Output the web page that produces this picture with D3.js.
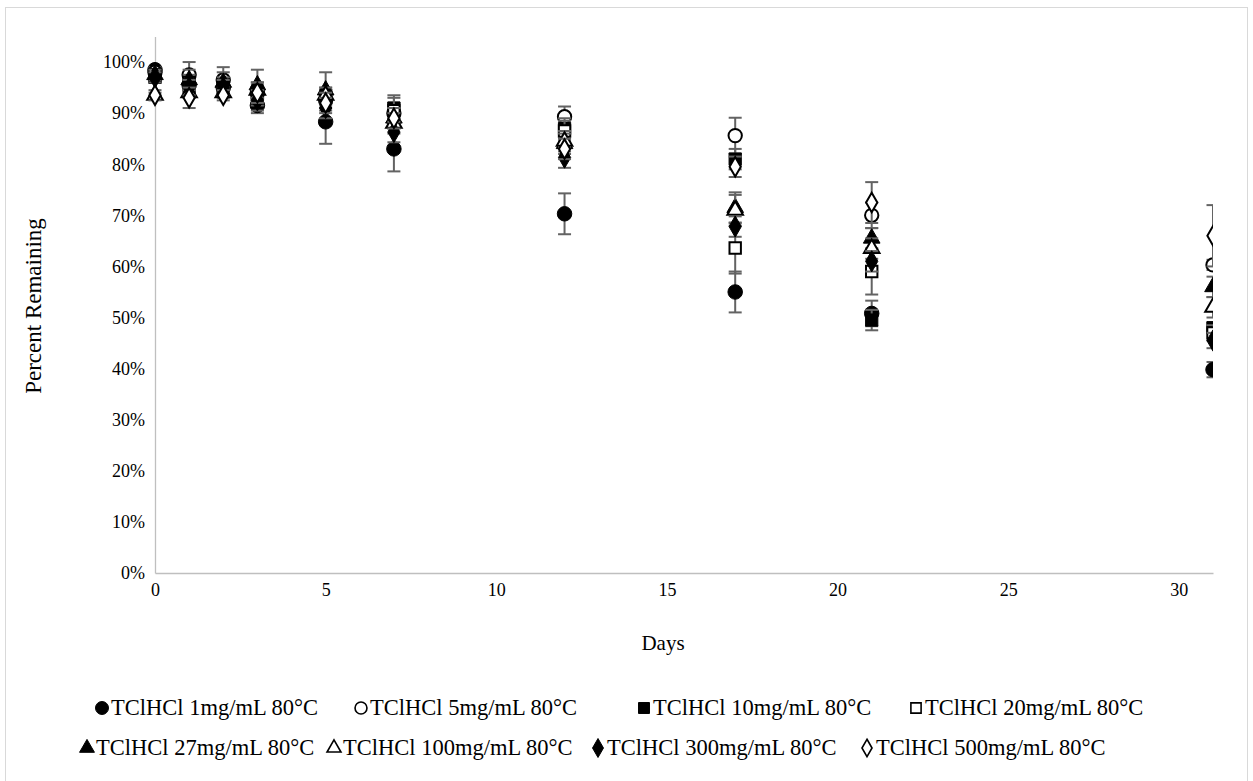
<!DOCTYPE html>
<html><head><meta charset="utf-8">
<script src="https://cdn.jsdelivr.net/npm/d3@7/dist/d3.min.js"></script>
<style>body{margin:0;background:#fff;} svg{display:block;}</style>
</head><body>
<svg id="chart" width="1253" height="781"></svg>
<script>
const days = [0, 1, 2, 3, 5, 7, 12, 17, 21, 31];
const xTicks = [0, 5, 10, 15, 20, 25, 30];
const yTicks = [0, 10, 20, 30, 40, 50, 60, 70, 80, 90, 100];
const seriesNames = ["TClHCl 1mg/mL 80°C", "TClHCl 5mg/mL 80°C", "TClHCl 10mg/mL 80°C", "TClHCl 20mg/mL 80°C",
  "TClHCl 27mg/mL 80°C", "TClHCl 100mg/mL 80°C", "TClHCl 300mg/mL 80°C", "TClHCl 500mg/mL 80°C"];
const s1mg   = [98.5, 95.5, 95.0, 91.5, 88.3, 83.0, 70.3, 55.0, 50.8, 39.8];
const s5mg   = [98.0, 97.5, 96.5, 94.0, 92.5, 90.0, 89.3, 85.6, 70.0, 60.3];
const s10mg  = [97.0, 95.0, 95.0, 93.0, 93.5, 91.0, 87.0, 81.0, 49.5, 48.0];
const s20mg  = [97.5, 96.0, 95.5, 94.0, 93.0, 90.5, 86.5, 63.6, 59.0, 47.0];
const s27mg  = [97.5, 96.5, 96.0, 95.5, 94.5, 89.0, 84.0, 71.5, 65.5, 56.0];
const s100mg = [93.5, 94.0, 94.0, 94.5, 93.5, 88.0, 84.5, 71.0, 63.5, 52.0];
const s300mg = [97.0, 95.0, 95.0, 92.5, 91.0, 86.3, 81.3, 67.8, 61.0, 45.5];
const s500mg = [93.5, 93.0, 93.5, 94.0, 92.0, 89.0, 83.0, 79.5, 72.5, 66.0];
const e1mg   = [0.5, 1.0, 1.0, 1.5, 4.3, 4.4, 4.0, 4.0, 2.5, 1.5];
const e5mg   = [1.0, 2.5, 2.5, 2.0, 2.0, 2.0, 2.0, 3.5, 2.5, 1.0];
const e10mg  = [1.0, 1.5, 1.5, 1.5, 1.5, 2.5, 2.0, 2.0, 2.0, 1.0];
const e20mg  = [1.0, 1.5, 1.5, 1.5, 1.5, 2.5, 2.0, 5.0, 4.5, 1.5];
const e27mg  = [1.0, 2.0, 2.0, 3.0, 3.5, 2.0, 2.0, 3.0, 2.0, 2.0];
const e100mg = [0.5, 1.0, 1.0, 1.5, 1.5, 2.0, 2.0, 3.0, 2.0, 2.0];
const e300mg = [1.0, 1.5, 1.5, 2.0, 2.0, 2.0, 2.0, 2.0, 2.0, 1.5];
const e500mg = [1.0, 2.0, 1.0, 2.0, 2.0, 2.0, 2.0, 2.0, 4.0, 6.0];

const values = [s1mg, s5mg, s10mg, s20mg, s27mg, s100mg, s300mg, s500mg];
const errors = [e1mg, e5mg, e10mg, e20mg, e27mg, e100mg, e300mg, e500mg];
const shapes = [
  {t: d3.symbolCircle, fill: true, size: 165},
  {t: d3.symbolCircle, fill: false, size: 140},
  {t: d3.symbolSquare, fill: true, size: 150},
  {t: d3.symbolSquare, fill: false, size: 130},
  {t: d3.symbolTriangle, fill: true, size: 120},
  {t: d3.symbolTriangle, fill: false, size: 105},
  {t: d3.symbolDiamond, fill: true, size: 130},
  {t: d3.symbolDiamond, fill: false, size: 110}
];

const svg = d3.select("#chart");
const font = "'Liberation Serif','Times New Roman',serif";

svg.append("rect").attr("x", 5.5).attr("y", 7.5).attr("width", 1242).attr("height", 800)
  .attr("fill", "#fff").attr("stroke", "#d9d9d9").attr("stroke-width", 1);

const x = d3.scaleLinear().domain([0, 31]).range([155, 1213]);
const y = d3.scaleLinear().domain([0, 105]).range([573, 36.5]);

// axes
const xAxis = d3.axisBottom(x).tickValues(xTicks).tickSize(0).tickPadding(10).tickFormat(d3.format("d"));
const gx = svg.append("g").attr("transform", "translate(0,573)").call(xAxis);
gx.select(".domain").attr("stroke", "#bfbfbf").attr("stroke-width", 1.3);
gx.selectAll("text").attr("font-family", font).attr("font-size", 18).attr("fill", "#000");

const yAxis = d3.axisLeft(y).tickValues(yTicks).tickSize(0).tickPadding(10).tickFormat(d => d + "%");
const gy = svg.append("g").attr("transform", "translate(155,0)").call(yAxis);
gy.select(".domain").attr("stroke", "#bfbfbf").attr("stroke-width", 1.3);
gy.selectAll("text").attr("font-family", font).attr("font-size", 18).attr("fill", "#000");

svg.append("text").attr("x", 663).attr("y", 650).attr("text-anchor", "middle")
  .attr("font-family", font).attr("font-size", 21).text("Days");
svg.append("text").attr("transform", "translate(41,306) rotate(-90)").attr("text-anchor", "middle")
  .attr("font-family", font).attr("font-size", 23).text("Percent Remaining");

svg.append("clipPath").attr("id", "clip").append("rect")
  .attr("x", 100).attr("y", 10).attr("width", 1113).attr("height", 600);
const plot = svg.append("g").attr("clip-path", "url(#clip)");

values.forEach((vals, si) => {
  const g = plot.append("g");
  const errs = errors[si];
  days.forEach((d, i) => {
    const cx = x(d), top = y(vals[i] + errs[i]), bot = y(vals[i] - errs[i]);
    g.append("line").attr("x1", cx).attr("x2", cx).attr("y1", top).attr("y2", bot)
      .attr("stroke", "#636363").attr("stroke-width", 2);
    [top, bot].forEach(yy => g.append("line").attr("x1", cx - 6.5).attr("x2", cx + 6.5)
      .attr("y1", yy).attr("y2", yy).attr("stroke", "#636363").attr("stroke-width", 2));
  });
  const sh = shapes[si];
  const sym = d3.symbol().type(sh.t).size(sh.size);
  days.forEach((d, i) => {
    g.append("path").attr("d", sym()).attr("transform", `translate(${x(d)},${y(vals[i])})`)
      .attr("fill", sh.fill ? "#000" : "#fff").attr("stroke", "#000").attr("stroke-width", sh.fill ? 1 : 2);
  });
});

// legend
const legendPos = [[102, 708], [361, 708], [644, 708], [916, 708], [87, 748], [334, 748], [598, 748], [867, 748]];
seriesNames.forEach((name, si) => {
  const [lx, ly] = legendPos[si];
  const sh = shapes[si];
  const sym = d3.symbol().type(sh.t).size(sh.size * 0.8);
  svg.append("path").attr("d", sym()).attr("transform", `translate(${lx},${ly})`)
    .attr("fill", sh.fill ? "#000" : "#fff").attr("stroke", "#000").attr("stroke-width", sh.fill ? 1 : 1.6);
  svg.append("text").attr("x", lx + 9).attr("y", ly + 7).attr("font-family", font).attr("font-size", 22.5)
    .text(name);
});
</script>
</body></html>
